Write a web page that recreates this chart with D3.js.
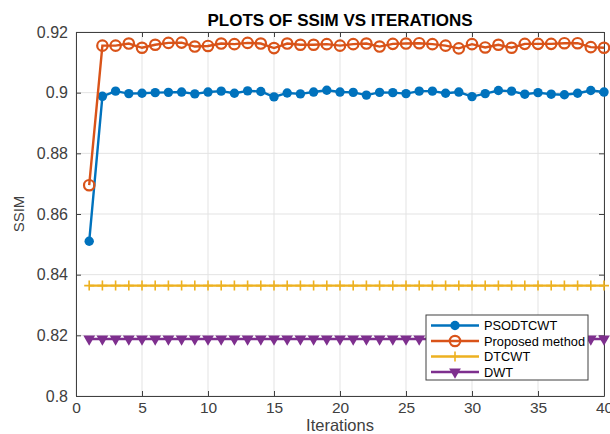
<!DOCTYPE html>
<html>
<head>
<meta charset="utf-8">
<script src="https://cdn.jsdelivr.net/npm/d3@7"></script>
<style>
body{margin:0;background:#fff;}
svg{font-family:"Liberation Sans",Arial,sans-serif;}
</style>
</head>
<body>
<svg width="610" height="434"></svg>
<script>
// dane z wykresu
var iteracje = d3.range(1, 41);
var psodtcwt = [0.851,0.8988,0.9005,0.8997,0.8998,0.9000,0.9001,0.9002,0.8996,0.9002,
	0.9005,0.8998,0.9006,0.9004,0.8986,0.8999,0.8996,0.9002,0.9008,0.9002,
	0.9001,0.8992,0.9001,0.9000,0.8997,0.9005,0.9005,0.8998,0.9002,0.8987,
	0.8997,0.9007,0.9005,0.8995,0.9000,0.8995,0.8993,0.8998,0.9007,0.9002];
var proposed = [0.8695,0.9155,0.9155,0.9162,0.9148,0.9158,0.9164,0.9165,0.9152,0.9154,
	0.9162,0.9160,0.9164,0.9162,0.9147,0.9162,0.9158,0.9158,0.9160,0.9155,
	0.9160,0.9162,0.9152,0.9161,0.9162,0.9163,0.9160,0.9155,0.9146,0.9160,
	0.9149,0.9158,0.9148,0.9161,0.9161,0.9161,0.9163,0.9163,0.9150,0.9148];
var dtcwt = iteracje.map(function(){ return 0.8364; });
var dwt = iteracje.map(function(){ return 0.8188; });
var nazwy = ["PSODTCWT", "Proposed method", "DTCWT", "DWT"];
var xTicks = [0,5,10,15,20,25,30,35,40];
var yTicks = [0.8,0.82,0.84,0.86,0.88,0.9,0.92];

var kolory = ["#0072bd", "#d95319", "#edb120", "#7e2f8e"];
var svg = d3.select("svg");
var x = d3.scaleLinear().domain([0, 40]).range([76, 604]);
var y = d3.scaleLinear().domain([0.8, 0.92]).range([396, 32]);

// siatka
svg.append("g").selectAll("line").data(xTicks).enter().append("line")
	.attr("x1", function(d){ return x(d); }).attr("x2", function(d){ return x(d); })
	.attr("y1", y(0.8)).attr("y2", y(0.92))
	.style("stroke", "#e3e3e3").style("stroke-width", "1px");
svg.append("g").selectAll("line").data(yTicks).enter().append("line")
	.attr("x1", x(0)).attr("x2", x(40))
	.attr("y1", function(d){ return y(d); }).attr("y2", function(d){ return y(d); })
	.style("stroke", "#e3e3e3").style("stroke-width", "1px");

// osie (ticki do srodka, na 4 bokach)
var fmtY = function(d){ return d == 0.8 ? "0.8" : d == 0.9 ? "0.9" : d3.format(".2f")(d); };
svg.append("g").attr("class", "osX").attr("transform", "translate(0," + y(0.8) + ")")
	.call(d3.axisBottom(x).tickValues(xTicks).tickSizeInner(-5).tickSizeOuter(0).tickPadding(6));
svg.append("g").attr("transform", "translate(0," + y(0.92) + ")")
	.call(d3.axisTop(x).tickValues(xTicks).tickSizeInner(-5).tickSizeOuter(0).tickFormat(""));
svg.append("g").attr("class", "osY").attr("transform", "translate(" + x(0) + ",0)")
	.call(d3.axisLeft(y).tickValues(yTicks).tickSizeInner(-5).tickSizeOuter(0).tickPadding(8).tickFormat(fmtY));
svg.append("g").attr("transform", "translate(" + x(40) + ",0)")
	.call(d3.axisRight(y).tickValues(yTicks).tickSizeInner(-5).tickSizeOuter(0).tickFormat(""));
svg.selectAll(".domain").style("stroke", "#404040");
svg.selectAll(".tick line").style("stroke", "#404040");
svg.selectAll(".tick text").style("fill", "#404040")
	.style("font-family", "Liberation Sans, Arial, sans-serif");
svg.selectAll(".osY .tick text").style("font-size", "16px");
svg.selectAll(".osX .tick text").style("font-size", "15.5px");

// linie danych
var serie = [psodtcwt, proposed, dtcwt, dwt];
var linia = d3.line().x(function(d, i){ return x(iteracje[i]); }).y(function(d){ return y(d); });
var trojkat = d3.symbol().type(d3.symbolTriangle).size(60);

function znacznik(g, k, cx, cy){
	if(k == 0){
		g.append("circle").attr("cx", cx).attr("cy", cy).attr("r", 4.7).style("fill", kolory[0]);
	} else if(k == 1){
		g.append("circle").attr("cx", cx).attr("cy", cy).attr("r", 5.2)
			.style("fill", "none").style("stroke", kolory[1]).style("stroke-width", "2.2px");
	} else if(k == 2){
		g.append("path").attr("d", "M" + (cx - 5) + "," + cy + "H" + (cx + 5) + "M" + cx + "," + (cy - 5) + "V" + (cy + 5))
			.style("stroke", kolory[2]).style("stroke-width", "1.6px");
	} else {
		g.append("path").attr("d", trojkat).attr("transform", "translate(" + cx + "," + cy + ") rotate(180)")
			.style("fill", kolory[3]);
	}
}

var obszar = svg.append("g");
for(let k = 0; k < serie.length; k++){
	obszar.append("path").datum(serie[k]).attr("d", linia)
		.style("fill", "none").style("stroke", kolory[k]).style("stroke-width", "2.4px");
	for(let i = 0; i < serie[k].length; i++){
		znacznik(obszar, k, x(iteracje[i]), y(serie[k][i]));
	}
}

// tytul i opisy osi
svg.append("text").attr("x", (x(0) + x(40)) / 2).attr("y", 26)
	.attr("text-anchor", "middle").style("font-weight", "bold").style("font-size", "17px")
	.style("fill", "#000").text("PLOTS OF SSIM VS ITERATIONS");
svg.append("text").attr("x", (x(0) + x(40)) / 2).attr("y", 431)
	.attr("text-anchor", "middle").style("font-size", "16.5px").style("fill", "#404040").text("Iterations");
svg.append("text").attr("transform", "translate(24," + ((y(0.8) + y(0.92)) / 2) + ") rotate(-90)")
	.attr("text-anchor", "middle").style("font-size", "15px").style("fill", "#404040").text("SSIM");

// legenda
var leg = svg.append("g");
leg.append("rect").attr("x", 426).attr("y", 315).attr("width", 162).attr("height", 65)
	.style("fill", "#fff").style("stroke", "#404040").style("stroke-width", "1px");
for(let k = 0; k < nazwy.length; k++){
	var ly = 325.5 + k * 15.5;
	leg.append("line").attr("x1", 431).attr("x2", 479).attr("y1", ly).attr("y2", ly)
		.style("stroke", kolory[k]).style("stroke-width", "2.4px");
	znacznik(leg, k, 455, ly);
	leg.append("text").attr("x", 484).attr("y", ly + 4.5).style("font-size", "12.8px")
		.style("fill", "#000").text(nazwy[k]);
}
</script>
</body>
</html>
